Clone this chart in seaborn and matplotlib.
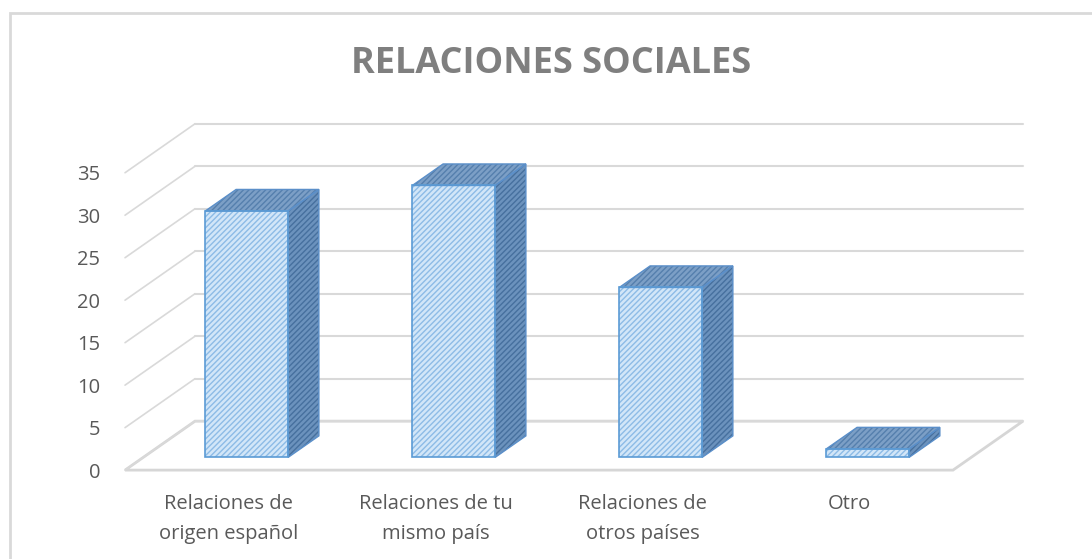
import numpy as np
import pandas as pd
import seaborn as sns
import matplotlib.pyplot as plt
from matplotlib.patches import Polygon, Rectangle

# datos
categorias = ['Relaciones de\norigen español', 'Relaciones de tu\nmismo país',
              'Relaciones de\notros países', 'Otro']
valores = [29, 32, 20, 1]
ticks_y = [0, 5, 10, 15, 20, 25, 30, 35]

sns.set_style('white')
plt.rcParams['font.family'] = ['Open Sans', 'DejaVu Sans']
plt.rcParams['hatch.linewidth'] = 1.0

# fake 3d depth (category units / value units)
DX, DY = 0.338, 5.76
f0, f1 = 0.26, 0.70

fig = plt.figure(figsize=(10.92, 5.59), dpi=100)
ax = fig.add_axes([0.1145, 0.159, 0.7582, 0.532])

#floor + walls
n = len(categorias)
floor = Polygon([(-0.5, 0), (n - 0.5, 0), (n - 0.5 + DX, DY), (-0.5 + DX, DY)],
                closed=True, facecolor='white', edgecolor='#d6d6d6', lw=2, zorder=1, clip_on=False)
ax.add_patch(floor)
for v in ticks_y:
    ax.plot([-0.5 + DX, n - 0.5 + DX], [v + DY, v + DY], color='#d9d9d9', lw=1.5, zorder=1.5, clip_on=False)
    ax.plot([-0.5, -0.5 + DX], [v, v + DY], color='#d9d9d9', lw=1.2, zorder=1.5, clip_on=False)

df = pd.DataFrame({'cat': categorias, 'val': valores})
sns.barplot(data=df, x='cat', y='val', ax=ax, color='#d2e6f8', width=0.40,
            hatch='//////', edgecolor='#8dbbe6', linewidth=0, saturation=1, zorder=3)

ddx, ddy = (f1 - f0) * DX, (f1 - f0) * DY
for p in ax.patches[1:]:
    if not isinstance(p, Rectangle):
        continue
    p.set_x(p.get_x() + f0 * DX)
    p.set_y(f0 * DY)
    p.set_clip_on(False)
    x0, y0, w, h = p.get_x(), p.get_y(), p.get_width(), p.get_height()
    side = Polygon([(x0 + w, y0), (x0 + w + ddx, y0 + ddy), (x0 + w + ddx, y0 + h + ddy), (x0 + w, y0 + h)],
                   closed=True, facecolor='#6b92bd', edgecolor='#46709e', hatch='//////', lw=0, zorder=3, clip_on=False)
    top = Polygon([(x0, y0 + h), (x0 + w, y0 + h), (x0 + w + ddx, y0 + h + ddy), (x0 + ddx, y0 + h + ddy)],
                  closed=True, facecolor='#7c9fc6', edgecolor='#557fad', hatch='//////', lw=0, zorder=3, clip_on=False)
    ax.add_patch(side)
    ax.add_patch(top)
    for poly in [side, top]:
        ax.add_patch(Polygon(poly.get_xy(), closed=True, fill=False, edgecolor='#5b8fc9', lw=1, zorder=3.5, clip_on=False))
    ax.add_patch(Rectangle((x0, y0), w, h, fill=False, edgecolor='#5b9bd5', lw=1.2, zorder=3.5, clip_on=False))

ax.set_xlim(-0.5, n - 0.5)
ax.set_ylim(0, 35)
ax.set_yticks(ticks_y)
ax.set_yticklabels([str(t) for t in ticks_y])
ax.set_xlabel('')
ax.set_ylabel('')
ax.tick_params(axis='y', length=0, pad=18, labelsize=14.5, labelcolor='#595959')
ax.tick_params(axis='x', length=0, pad=17, labelsize=14.5, labelcolor='#595959')
for lbl in ax.get_xticklabels():
    lbl.set_linespacing(1.7)
sns.despine(ax=ax, left=True, bottom=True)
ax.patch.set_alpha(0)

fig.text(0.505, 0.885, 'RELACIONES SOCIALES', ha='center', va='center',
         fontsize=26, fontweight='bold', color='#7f7f7f')

# chart frame
fig.patches.append(Rectangle((10 / 1092, -0.1), 1.2, 1 - 13 / 559 + 0.1, transform=fig.transFigure,
                             fill=False, edgecolor='#d9d9d9', lw=2, zorder=0))

plt.savefig('out.png', dpi=100)
